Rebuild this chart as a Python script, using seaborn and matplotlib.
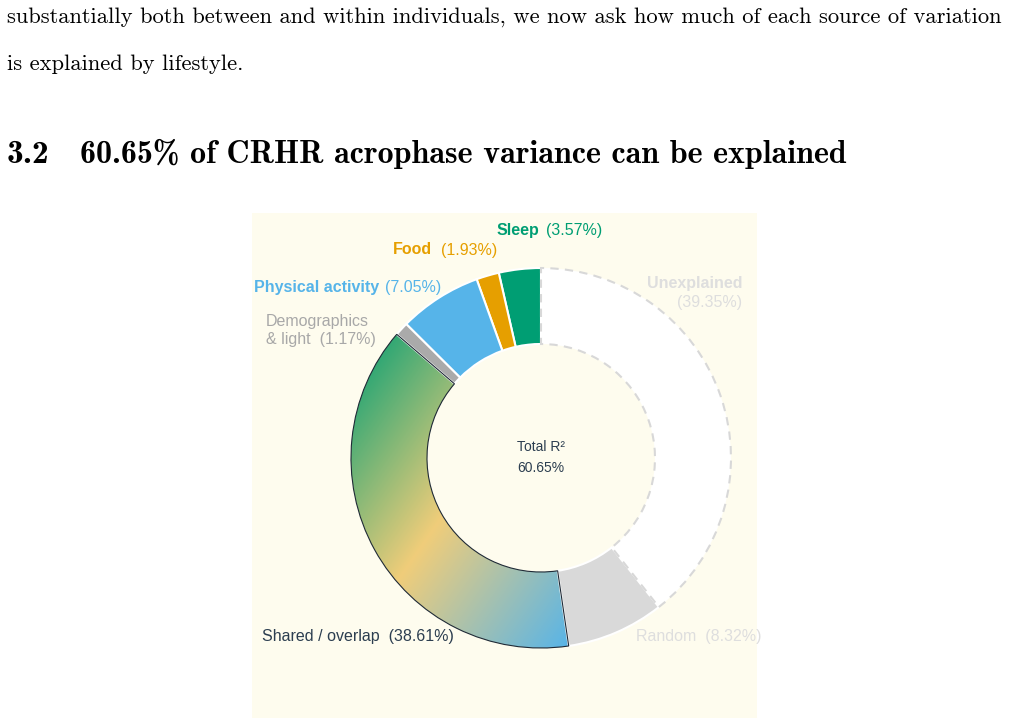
import numpy as np
import seaborn as sns
import matplotlib.pyplot as plt

# data
labels = ['Sleep', 'Food', 'Physical activity', 'Demographics\n& light',
          'Shared / overlap', 'Random', 'Unexplained']
values = [3.57, 1.93, 7.05, 1.17, 38.61, 8.32, 39.35]
colors = ['#009E73', '#E69F00', '#56B4E9', '#aaaaaa', '#f0cd7a', '#d9d9d9', '#ffffff']
grad_colors = ['#009E73', '#f0cd7a', '#56B4E9']
total_r2 = 60.65

line1 = 'substantially both between and within individuals, we now ask how much of each source of variation'
line2 = 'is explained by lifestyle.'
sec_num = '3.2'
sec_title = '60.65% of CRHR acrophase variance can be explained'

sns.set_style('white')
plt.rcParams['font.family'] = ['Liberation Sans', 'DejaVu Sans']

W, H = 1009, 726
fig = plt.figure(figsize=(W / 100, H / 100), dpi=100)
fig.patch.set_facecolor('white')


def px(x, y):
    return x / W, 1 - y / H


# page text (LaTeX look)
r = fig.canvas.get_renderer()
t1 = fig.text(*px(7, 23), line1, family='cmr10', size=14.5, va='baseline', color='black')
w1 = t1.get_window_extent(r).width
body_size = 14.5 * 995 / w1
t1.set_fontsize(body_size)
fig.text(*px(7, 70), line2, family='cmr10', size=body_size, va='baseline', color='black')

th = fig.text(*px(80, 163), sec_title, family='cmb10', size=18, va='baseline', color='black')
wh = th.get_window_extent(r).width
head_size = 18 * 767 / wh
th.set_fontsize(head_size)
fig.text(*px(7, 163), sec_num, family='cmb10', size=head_size * 1.05, va='baseline', color='black')

# chart panel
cx, cy, R = 541, 458, 190
ax = fig.add_axes([252 / W, (H - 718) / H, 505 / W, 505 / H])
wedges, _ = ax.pie(values, colors=colors, startangle=90, counterclock=True, radius=1,
                   wedgeprops=dict(width=0.4, edgecolor='white', linewidth=1.5))

# shared slice gets a diagonal gradient
shared = wedges[4]
verts = shared.get_path().vertices
x0, x1 = verts[:, 0].min(), verts[:, 0].max()
y0, y1 = verts[:, 1].min(), verts[:, 1].max()
gx, gy = np.meshgrid(np.linspace(0, 1, 300), np.linspace(0, 1, 300))
grad = (gx + (1 - gy)) / 2
cmap = sns.blend_palette(grad_colors, as_cmap=True)
im = ax.imshow(grad, extent=(x0, x1, y0, y1), origin='lower', cmap=cmap,
               vmin=0, vmax=1, zorder=0.9, interpolation='bilinear')
im.set_clip_path(shared)
shared.set_facecolor('none')
shared.set_edgecolor('#1f2a36')
shared.set_linewidth(0.8)
shared.set_zorder(1.1)

unexp = wedges[6]
unexp.set_edgecolor('#d8d8d8')
unexp.set_linestyle((0, (4, 3)))
unexp.set_linewidth(1.5)
unexp.set_zorder(1.2)

ax.set_xlim(-(cx - 252) / R, (757 - cx) / R)
ax.set_ylim(-(718 - cy) / R, (cy - 213) / R)
ax.set_frame_on(True)
for s in ax.spines.values():
    s.set_visible(False)
ax.set_facecolor('#fefcee')
ax.set_xticks([])
ax.set_yticks([])

# labels
green, orange, blue = colors[0], colors[1], colors[2]
dark = '#2c3e50'
faint = '#dedede'
fs = 11.5


def pct(v):
    return '(%.2f%%)' % v


fig.text(*px(539, 230), labels[0], ha='right', va='center', weight='bold', color=green, size=fs)
fig.text(*px(546, 230), pct(values[0]), ha='left', va='center', color=green, size=fs)
fig.text(*px(432, 250), labels[1], ha='right', va='center', weight='bold', color=orange, size=fs)
fig.text(*px(441, 250), pct(values[1]), ha='left', va='center', color=orange, size=fs)
fig.text(*px(379, 287), labels[2], ha='right', va='center', weight='bold', color=blue, size=fs)
fig.text(*px(385, 287), pct(values[2]), ha='left', va='center', color=blue, size=fs)
fig.text(*px(266, 330), labels[3] + '  ' + pct(values[3]), ha='left', va='center',
         color='#a8a8a8', size=fs, linespacing=1.25)
fig.text(*px(262, 637), labels[4] + '  ' + pct(values[4]), ha='left', va='center', color=dark, size=fs)
fig.text(*px(636, 636), labels[5] + '  ' + pct(values[5]), ha='left', va='center', color=faint, size=fs)
fig.text(*px(742, 284), labels[6], ha='right', va='center', weight='bold', color=faint, size=fs)
fig.text(*px(742, 302), pct(values[6]), ha='right', va='center', color=faint, size=fs)

fig.text(*px(cx, 447), 'Total R²', ha='center', va='center', color=dark, size=10)
fig.text(*px(cx, 468), '%.2f%%' % total_r2, ha='center', va='center', color=dark, size=10)

fig.savefig('out.png', dpi=100)
